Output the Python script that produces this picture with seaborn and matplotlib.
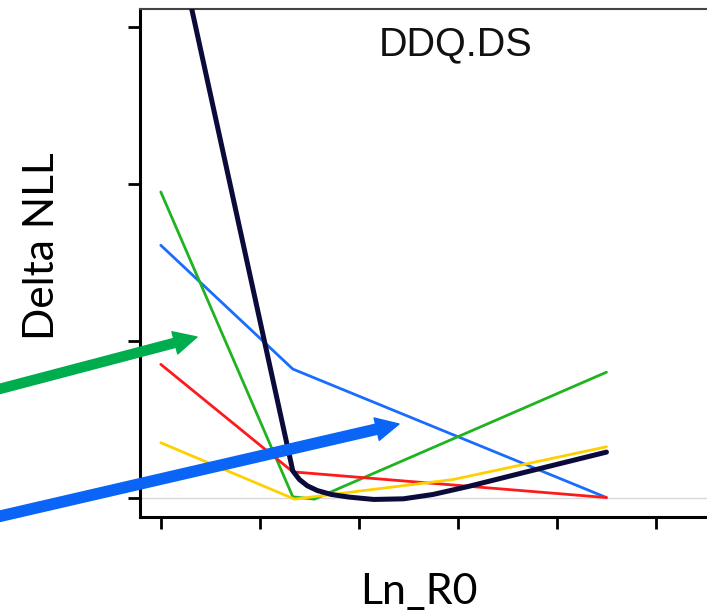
import numpy as np
import pandas as pd
import matplotlib
matplotlib.use("Agg")
import matplotlib.pyplot as plt
import seaborn as sns

# ---- data ----
x_blue = [0.0, 1.333, 4.5]
y_blue = [1.61, 0.82, 0.0]

x_green = [0.0, 1.333, 1.55, 4.5]
y_green = [1.95, 0.005, -0.01, 0.80]

x_red = [0.0, 1.333, 4.5]
y_red = [0.85, 0.164, 0.0]

x_yellow = [0.0, 1.35, 2.95, 4.5]
y_yellow = [0.35, -0.01, 0.115, 0.324]

x_navy = [0.0, 1.333, 1.40, 1.48, 1.58, 1.72, 1.90, 2.15, 2.45, 2.75, 3.10, 3.70, 4.5]
y_navy = [4.02, 0.17, 0.115, 0.075, 0.045, 0.02, 0.003, -0.012, -0.008, 0.02, 0.07, 0.165, 0.29]

x_ticks = [0, 1, 2, 3, 4, 5]
y_ticks = [0, 1, 2, 3]

panel_title = "DDQ.DS"
x_label = "Ln_R0"
y_label = "Delta NLL"

W, H = 707, 613
DPI = 100

sns.set_style("white")
plt.rcParams["font.family"] = ["Liberation Sans", "DejaVu Sans"]

fig = plt.figure(figsize=(W / DPI, H / DPI), dpi=DPI)

# axes in pixel geometry (right edge runs past the figure as in the crop)
left_px, right_px, top_px, bottom_px = 140, 755, 8.6, 517
ax = fig.add_axes([left_px / W, 1 - bottom_px / H,
                   (right_px - left_px) / W, (bottom_px - top_px) / H])

thin = 2.0
series = [
    ("blue", x_blue, y_blue, "#1a6cff", thin),
    ("green", x_green, y_green, "#1fb41f", thin),
    ("red", x_red, y_red, "#ff1a1a", thin),
    ("yellow", x_yellow, y_yellow, "#ffd000", thin),
]
ax.axhline(0, color="#d9d9d9", lw=1.0, zorder=1)
for name, xs, ys, col, lw in series:
    df = pd.DataFrame({"x": xs, "y": ys})
    sns.lineplot(data=df, x="x", y="y", ax=ax, color=col, lw=lw,
                 estimator=None, sort=False, zorder=3)
df_n = pd.DataFrame({"x": x_navy, "y": y_navy})
line_n = sns.lineplot(data=df_n, x="x", y="y", ax=ax, color="#0b0b3b", lw=3.6,
                      estimator=None, sort=False, zorder=4)
ax.lines[-1].set_solid_joinstyle("round")

ax.set_xlim(-0.21, 6.0)
ax.set_ylim(-0.124, 3.12)
ax.set_xticks(x_ticks)
ax.set_yticks(y_ticks)
ax.set_xticklabels([])
ax.set_yticklabels([])
ax.set_xlabel("")
ax.set_ylabel("")
ax.tick_params(axis="both", direction="out", length=8.5, width=2.0,
               color="black", bottom=True, left=True)
for s in ["left", "bottom"]:
    ax.spines[s].set_linewidth(2.2)
    ax.spines[s].set_color("black")
ax.spines["top"].set_linewidth(1.5)
ax.spines["top"].set_color("#444444")
ax.spines["right"].set_visible(False)

# texts in pixel positions
def px(x, y):
    return x / W, 1 - y / H

fig.text(*px(456, 55), panel_title, ha="center", va="baseline",
         fontsize=28.5, family=["Liberation Sans", "DejaVu Sans"], color="#111111")
fig.text(*px(61, 246), y_label, ha="right", va="center", rotation=90,
         fontsize=30.5, family=["Lato", "DejaVu Sans"], color="black")
fig.text(*px(419, 604), x_label, ha="center", va="baseline",
         fontsize=31, family=["Lato", "DejaVu Sans"], color="black")

# annotation arrows (figure pixels, y from bottom)
def arrow(p0, p1, col, tail, headw, headl):
    ax.annotate("", xy=(p1[0], H - p1[1]), xycoords="figure pixels",
                xytext=(p0[0], H - p0[1]), textcoords="figure pixels",
                arrowprops=dict(arrowstyle=f"simple,head_length={headl},head_width={headw},tail_width={tail}",
                                color=col, shrinkA=0, shrinkB=0, mutation_scale=10),
                annotation_clip=False, zorder=10)

arrow((-12, 392), (197, 337), "#00ad4e", 0.66, 1.65, 1.65)
arrow((-12, 519), (399, 424), "#0a64f5", 0.74, 1.65, 1.65)

fig.savefig("out.png", dpi=DPI)
